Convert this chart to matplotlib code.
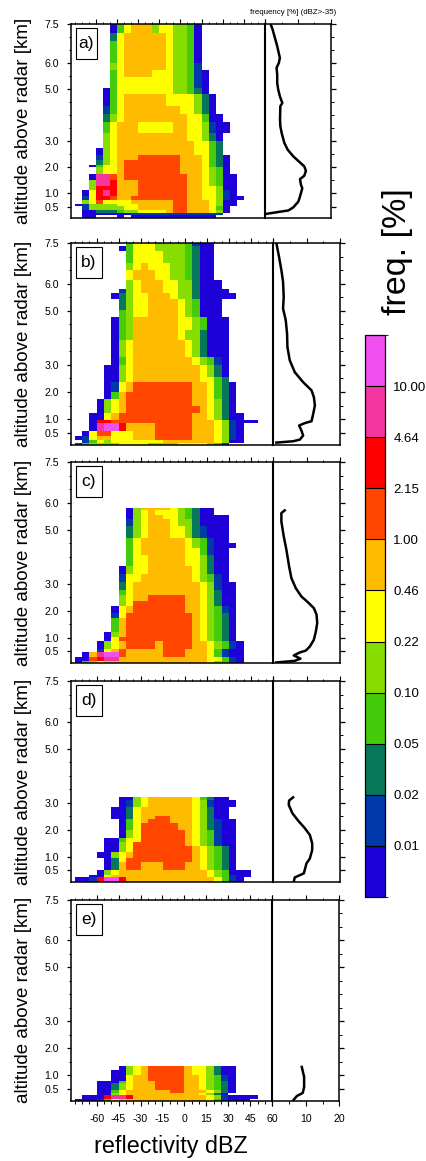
import numpy as np
import matplotlib
matplotlib.use("Agg")
import matplotlib.pyplot as plt
from matplotlib.colors import ListedColormap, BoundaryNorm
from matplotlib.patches import Rectangle
from matplotlib.ticker import MultipleLocator, FixedLocator

plt.rcParams['font.family'] = ['Liberation Sans', 'DejaVu Sans']
plt.rcParams['axes.unicode_minus'] = False

W, H = 427, 1161

# frequency classes, low to high
class_colors = ['#1E00D8', '#0039AA', '#07775A', '#44CC0A', '#88DD00', '#FFFF00',
                '#FFBB00', '#FF4500', '#FF0000', '#F535A0', '#F050F0']
class_bounds = [0.0, 0.01, 0.02, 0.05, 0.10, 0.22, 0.46, 1.00, 2.15, 4.64, 10.00, 25.0]
class_freq = [0.007, 0.015, 0.03, 0.07, 0.15, 0.3, 0.7, 1.5, 3.0, 7.0, 15.0]
cbar_labels = ['0.01', '0.02', '0.05', '0.10', '0.22', '0.46', '1.00', '2.15', '4.64', '10.00']

# 5 dBZ bins from -75 to 60. one char per bin, '.' = no data, 0-9 and a = class
dbz_edges = np.arange(-75, 61, 5)

alt_a = [7.5, 7.15, 6.85, 6.0, 5.75, 5.45, 5.05, 4.8, 4.35, 4.03, 3.74, 3.32, 3.0, 2.74, 2.49,
         2.29, 2.1, 2.0, 1.74, 1.53, 1.27, 1.14, 0.92, 0.76, 0.6, 0.53, 0.37, 0.24, 0.17, 0.06]
rows_a = [
    ".....0356664554430",
    ".....2566666654430",
    ".....3566666654430",
    ".....4566666654431",
    ".....35666655544310",
    ".....35555555544310",
    "....035555555544320",
    "....0356666665555420",
    "....1356666666655420",
    "....24566666666655300",
    "....356665555566554100",
    "....45666666666655420",
    "....45666666666665532",
    "...045666666666665532",
    "...1456667777776665320",
    "...2456777777776665320",
    "..03556777777776665320",
    "...4556777777776665430",
    "..099767777777776654300",
    "..499866677777776654300",
    "..488866677777776655400",
    ".0589866677777776655410",
    ".15887667777777766554100",
    ".4575555666666776665400",
    "01444455566666776665400",
    ".144444556666677666530",
    ".002223445555677666540",
    ".00000001111111111111",
    ".00...0.000000000000",
]

alt_b = [7.5, 7.39, 7.22, 6.75, 6.52, 6.13, 5.82, 5.67, 5.45, 5.02, 4.75, 4.3, 3.91, 3.29, 2.98,
         2.55, 2.36, 1.99, 1.75, 1.5, 1.22, 0.97, 0.85, 0.57, 0.39, 0.23, 0.12, 0.06]
rows_b = [
    ".......355544443100",
    "......0355544443200",
    ".......355554443200",
    ".......456555443200",
    ".......566655443200",
    ".......4566655442000",
    "......145666554420000",
    ".....02455666544200000",
    "......24556666543000",
    "......34556666543000",
    ".....0346666665543000",
    ".....0346666665442000",
    ".....0456666666542000",
    ".....0356666666654310",
    "....00456666666665420",
    "....00456666666665532",
    "....015677777777665320",
    "....036777777777665320",
    "...0456777777777665420",
    "...0456777777777765420",
    "..005677777777776654200",
    "..08877777777777666541000",
    "..09aa86666777776665410",
    ".0577555666777776665410",
    "01566555666777776665410",
    ".1354555555566666665400",
    "134444555544445555431",
]

alt_c = [5.8, 5.71, 5.55, 5.39, 5.14, 4.69, 4.5, 4.31, 4.07, 3.66, 3.36, 3.04, 2.77, 2.59,
         2.34, 2.18, 1.91, 1.72, 1.19, 1.02, 0.86, 0.59, 0.45, 0.28, 0.15, 0.06]
rows_c = [
    ".......046666543200",
    ".......045655543200",
    ".......04566554320000",
    ".......14566654420000",
    ".......24566655421000",
    ".......35666666543100",
    ".......356666665431000",
    ".......35666666553100",
    ".......35566666554200",
    "......045566666654200",
    "......155666666654310",
    "......2566666666654100",
    "......3566666666654200",
    "......4566777776654200",
    "......4577777776654200",
    ".....05677777776654310",
    ".....15777777777654320",
    ".....36777777777654320",
    "....046777777777654320",
    "....057777777777654320",
    "...04567777677776654310",
    "...15676666677766653100",
    ".069aa76666677766653100",
    "00789966666666666655310",
    "03456666666666666654310",
]

alt_d = [3.23, 3.1, 2.86, 2.52, 2.4, 2.24, 1.99, 1.69, 1.56, 1.4, 1.19, 0.94, 0.8, 0.51,
         0.33, 0.24, 0.06]
rows_d = [
    "......004566666653200",
    "......0145666666541000",
    ".....0025666666654200",
    ".....0025667766654200",
    "......0356777666542100",
    "......0357777766542100",
    "......0457777776543100",
    "....003557777776543100",
    "....004577777776543100",
    "....004577777777654320",
    "...0045677777777654320",
    "....025777777777654320",
    "....026776667776654320",
    "...045666666666666543000",
    "..0056666666666666543100",
    "0018aa86666666666665310",
]

alt_e = [1.35, 1.19, 1.01, 0.8, 0.7, 0.45, 0.35, 0.27, 0.14, 0.06]
rows_e = [
    "......0456777776554200",
    ".....00456777776554200",
    ".....00566777776654310",
    "...0003566677776654320",
    "...0024566677776654320",
    "...0035666666776665420",
    "...004566666666665420",
    ".000899866666666665410000",
    "000135666666666666531000",
]

# right hand profiles: frequency [%] for dBZ>-35 against altitude
prof_alt_a = [7.5, 7.29, 6.97, 6.65, 6.2, 6.01, 5.82, 5.56, 5.24, 4.99, 4.73, 4.47, 4.35, 3.83,
              3.58, 3.32, 2.94, 2.68, 2.42, 2.19, 2.04, 1.87, 1.68, 1.55, 1.33, 1.2, 0.88, 0.69,
              0.47, 0.35, 0.29, 0.22]
prof_a = [1.7, 2.3, 3.0, 3.7, 4.5, 4.2, 3.5, 3.7, 3.7, 4.0, 4.5, 5.25, 4.65, 4.55,
          4.65, 5.05, 5.86, 6.87, 8.6, 10.6, 11.9, 12.4, 11.9, 10.6, 10.9, 11.3, 10.6, 10.1,
          8.6, 7.1, 4.0, 0.5]
prof_alt_b = [7.5, 6.99, 6.5, 6.07, 5.51, 5.08, 4.65, 4.15, 3.66, 3.17, 2.73, 2.36, 2.06, 1.81,
              1.5, 1.19, 0.92, 0.85, 0.76, 0.57, 0.39, 0.24, 0.18, 0.13]
prof_b = [1.0, 1.8, 2.5, 3.0, 3.2, 3.0, 3.8, 4.2, 4.3, 5.0, 6.5, 9.0, 11.5, 12.2,
          12.5, 12.0, 11.5, 9.5, 7.8, 8.5, 9.0, 8.0, 6.0, 1.0]
prof_alt_c = [5.71, 5.61, 5.3, 4.75, 4.25, 3.64, 3.2, 2.83, 2.52, 2.3, 2.09, 1.85, 1.54, 1.23,
              0.92, 0.67, 0.52, 0.45, 0.34, 0.22, 0.14, 0.08]
prof_c = [3.5, 2.5, 2.5, 3.2, 4.0, 4.8, 5.5, 6.8, 8.5, 10.5, 12.2, 13.0, 13.2, 12.8,
          12.2, 11.0, 9.8, 8.0, 6.2, 8.2, 6.5, 1.0]
prof_alt_d = [3.2, 3.08, 2.92, 2.61, 2.34, 2.06, 1.81, 1.5, 1.25, 0.94, 0.76, 0.39, 0.24, 0.08]
prof_d = [6.0, 4.8, 4.7, 5.8, 7.5, 9.5, 11.0, 11.7, 11.7, 11.0, 10.0, 9.2, 6.5, 6.2]
prof_alt_e = [1.31, 1.1, 0.94, 0.57, 0.35, 0.23, 0.08]
prof_e = [8.8, 9.2, 9.5, 9.5, 9.1, 7.3, 6.3]

alt_ticks = [0.5, 1.0, 2.0, 3.0, 5.0, 6.0, 7.5]
alt_minor = [1.5, 2.5, 3.5, 4.0, 4.5, 5.5, 6.5, 7.0]
dbz_ticks = [-60, -45, -30, -15, 0, 15, 30, 45, 60]

panel_names = ['a)', 'b)', 'c)', 'd)', 'e)']
panel_alts = [alt_a, alt_b, alt_c, alt_d, alt_e]
panel_rows = [rows_a, rows_b, rows_c, rows_d, rows_e]
panel_prof = [(prof_a, prof_alt_a), (prof_b, prof_alt_b), (prof_c, prof_alt_c),
              (prof_d, prof_alt_d), (prof_e, prof_alt_e)]

# pixel boxes of the panels: left, split, right, top, bottom
boxes = [(71, 265, 331, 24, 218),
         (71, 273, 340, 243, 444.5),
         (71, 273, 340, 462, 663),
         (71, 273, 340, 681, 882.3),
         (71, 272.3, 339.3, 900, 1100.7)]


def px_axes(fig, x0, x1, y0, y1):
    return fig.add_axes([x0 / W, 1 - y1 / H, (x1 - x0) / W, (y1 - y0) / H])


def rows_to_grid(rows):
    grid = np.full((len(rows), len(dbz_edges) - 1), np.nan)
    for i, row in enumerate(rows):
        for j, ch in enumerate(row):
            if ch != '.':
                grid[i, j] = class_freq[int(ch, 16)]
    return np.ma.masked_invalid(grid)


cmap = ListedColormap(class_colors)
norm = BoundaryNorm(class_bounds, cmap.N)

fig = plt.figure(figsize=(W / 100, H / 100), dpi=100)

mesh = None
for k, (x0, xs, x1, y0, y1) in enumerate(boxes):
    last = k == len(boxes) - 1

    ax = px_axes(fig, x0, xs, y0, y1)
    mesh = ax.pcolormesh(dbz_edges, panel_alts[k], rows_to_grid(panel_rows[k]),
                         cmap=cmap, norm=norm, antialiased=False, linewidth=0)
    ax.set_xlim(-77.5, 60)
    ax.set_ylim(0.06, 7.5)
    ax.xaxis.set_major_locator(FixedLocator(dbz_ticks))
    ax.xaxis.set_minor_locator(MultipleLocator(5))
    ax.yaxis.set_major_locator(FixedLocator(alt_ticks))
    ax.yaxis.set_minor_locator(FixedLocator(alt_minor))
    ax.set_yticklabels([f"{v:.1f}" for v in alt_ticks])
    ax.tick_params(axis='y', which='major', direction='out', length=3.2, width=0.9,
                   labelsize=7.6, pad=5.5)
    ax.tick_params(axis='y', which='minor', direction='out', length=1.6, width=0.7)
    ax.tick_params(axis='x', which='major', direction='out', length=3.4, width=0.8, top=True,
                   bottom=last, labelbottom=last, labelsize=7.6, pad=6.5)
    ax.tick_params(axis='x', which='minor', direction='out', length=1.8, width=0.7, top=True,
                   bottom=last)
    if last:
        ax.set_xticklabels([str(v) for v in dbz_ticks])
    for s in ax.spines.values():
        s.set_linewidth(1.1)
    ax.spines['right'].set_visible(False)

    # letter box
    bw = (97 if k == 0 else 102) - x0
    ax.add_patch(Rectangle((5 / (xs - x0), 1 - 35 / (y1 - y0)), (bw - 5) / (xs - x0), 31 / (y1 - y0),
                           transform=ax.transAxes, fc='white', ec='black', lw=0.8, zorder=5))
    ax.text((5 + bw) / 2 / (xs - x0), 1 - 19.5 / (y1 - y0), panel_names[k], transform=ax.transAxes,
            ha='center', va='center', fontsize=12.5, zorder=6)

    fig.text(23.5 / W, 1 - (y0 + y1) / 2 / H, "altitude above radar [km]", rotation=90,
             ha='center', va='center', fontsize=13.5)

    ax2 = px_axes(fig, xs, x1, y0, y1)
    ax2.plot(panel_prof[k][0], panel_prof[k][1], color='black', lw=1.8, solid_joinstyle='round')
    ax2.set_xlim(0, 20)
    ax2.set_ylim(0.06, 7.5)
    ax2.xaxis.set_major_locator(FixedLocator([0, 10, 20]))
    ax2.xaxis.set_minor_locator(MultipleLocator(5))
    ax2.yaxis.set_major_locator(FixedLocator(alt_ticks))
    ax2.yaxis.set_minor_locator(FixedLocator(alt_minor))
    ax2.tick_params(axis='y', which='major', direction='out', left=False, labelleft=False,
                    right=True, length=3.6, width=0.9)
    ax2.tick_params(axis='y', which='minor', direction='out', left=False, right=True,
                    length=1.8, width=0.7)
    ax2.tick_params(axis='x', which='major', direction='out', length=3.4, width=0.8, top=True,
                    bottom=last, labelbottom=last, labelsize=7.6, pad=6.5)
    ax2.tick_params(axis='x', which='minor', direction='out', length=1.8, width=0.7, top=True,
                    bottom=last)
    if last:
        ax2.set_xticklabels(['', '10', '20'])
    for s in ax2.spines.values():
        s.set_linewidth(1.1)
    ax2.spines['left'].set_linewidth(1.5)

fig.text(293.5 / W, 1 - 12.5 / H, "frequency [%] (dBZ>-35)", ha='center', va='center', fontsize=5.7)
fig.text(171 / W, 1 - 1147 / H, "reflectivity dBZ", ha='center', va='center', fontsize=16.8)
fig.text(398 / W, 1 - 252 / H, "freq. [%]", rotation=90, ha='center', va='center', fontsize=24.5)

cax = px_axes(fig, 365, 385, 335, 897)
cb = fig.colorbar(mesh, cax=cax, spacing='uniform', ticks=class_bounds[1:-1], drawedges=True)
cb.ax.set_yticklabels(cbar_labels)
cb.ax.tick_params(length=0, labelsize=9.5, pad=6)
cb.outline.set_linewidth(0.9)
cb.dividers.set_linewidth(0.8)

fig.savefig("out.png", dpi=100)
